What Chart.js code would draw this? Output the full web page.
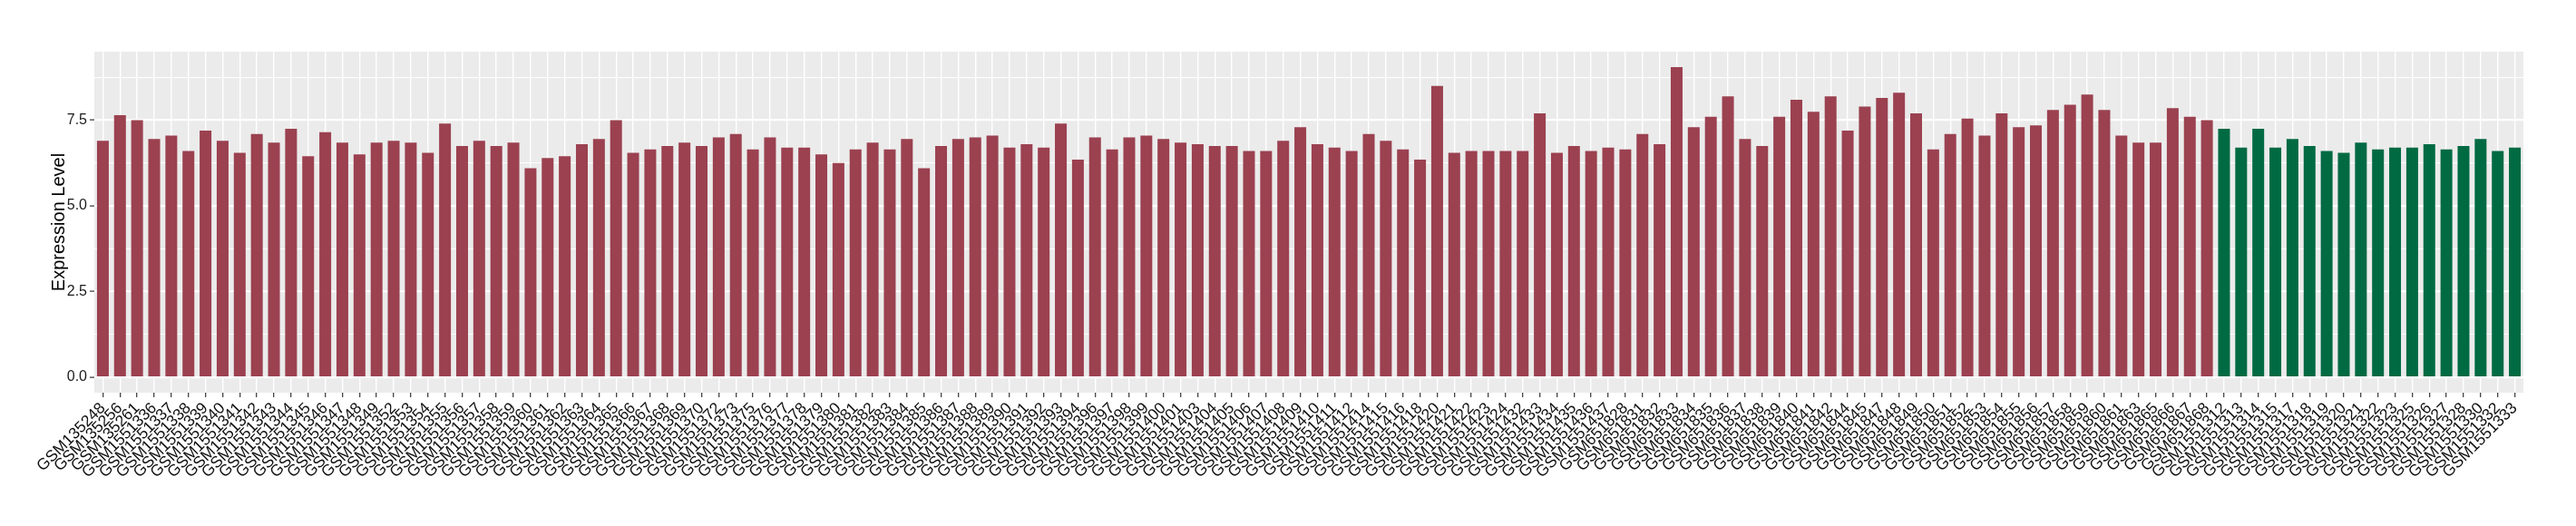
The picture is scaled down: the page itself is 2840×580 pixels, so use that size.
<!DOCTYPE html>
<html>
<head>
<meta charset="utf-8">
<script src="https://cdn.jsdelivr.net/npm/chart.js@4.4.0/dist/chart.umd.min.js"></script>
<style>
  html, body { margin: 0; padding: 0; background: #fff; }
</style>
</head>
<body>
<canvas id="chart" width="2840" height="580"></canvas>
<script>
// samples of the first group (drawn red)
const groupASamples = [
  "GSM135248", "GSM135256", "GSM135261", "GSM1551336", "GSM1551337", "GSM1551338", "GSM1551339", "GSM1551340",
  "GSM1551341", "GSM1551342", "GSM1551343", "GSM1551344", "GSM1551345", "GSM1551346", "GSM1551347", "GSM1551348",
  "GSM1551349", "GSM1551352", "GSM1551353", "GSM1551354", "GSM1551355", "GSM1551356", "GSM1551357", "GSM1551358",
  "GSM1551359", "GSM1551360", "GSM1551361", "GSM1551362", "GSM1551363", "GSM1551364", "GSM1551365", "GSM1551366",
  "GSM1551367", "GSM1551368", "GSM1551369", "GSM1551370", "GSM1551372", "GSM1551373", "GSM1551375", "GSM1551376",
  "GSM1551377", "GSM1551378", "GSM1551379", "GSM1551380", "GSM1551381", "GSM1551382", "GSM1551383", "GSM1551384",
  "GSM1551385", "GSM1551386", "GSM1551387", "GSM1551388", "GSM1551389", "GSM1551390", "GSM1551391", "GSM1551392",
  "GSM1551393", "GSM1551394", "GSM1551396", "GSM1551397", "GSM1551398", "GSM1551399", "GSM1551400", "GSM1551401",
  "GSM1551403", "GSM1551404", "GSM1551405", "GSM1551406", "GSM1551407", "GSM1551408", "GSM1551409", "GSM1551410",
  "GSM1551411", "GSM1551412", "GSM1551414", "GSM1551415", "GSM1551416", "GSM1551418", "GSM1551420", "GSM1551421",
  "GSM1551422", "GSM1551423", "GSM1551424", "GSM1551432", "GSM1551433", "GSM1551434", "GSM1551435", "GSM1551436",
  "GSM1551437", "GSM651828", "GSM651831", "GSM651832", "GSM651833", "GSM651834", "GSM651835", "GSM651836",
  "GSM651837", "GSM651838", "GSM651839", "GSM651840", "GSM651841", "GSM651842", "GSM651844", "GSM651845",
  "GSM651847", "GSM651848", "GSM651849", "GSM651850", "GSM651851", "GSM651852", "GSM651853", "GSM651854",
  "GSM651855", "GSM651856", "GSM651857", "GSM651858", "GSM651859", "GSM651860", "GSM651861", "GSM651863",
  "GSM651865", "GSM651866", "GSM651867", "GSM651868"
];
const groupAValues = [
  6.9, 7.65, 7.5, 6.95, 7.05, 6.6, 7.2, 6.9,
  6.55, 7.1, 6.85, 7.25, 6.45, 7.15, 6.85, 6.5,
  6.85, 6.9, 6.85, 6.55, 7.4, 6.75, 6.9, 6.75,
  6.85, 6.1, 6.4, 6.45, 6.8, 6.95, 7.5, 6.55,
  6.65, 6.75, 6.85, 6.75, 7.0, 7.1, 6.65, 7.0,
  6.7, 6.7, 6.5, 6.25, 6.65, 6.85, 6.65, 6.95,
  6.1, 6.75, 6.95, 7.0, 7.05, 6.7, 6.8, 6.7,
  7.4, 6.35, 7.0, 6.65, 7.0, 7.05, 6.95, 6.85,
  6.8, 6.75, 6.75, 6.6, 6.6, 6.9, 7.3, 6.8,
  6.7, 6.6, 7.1, 6.9, 6.65, 6.35, 8.5, 6.55,
  6.6, 6.6, 6.6, 6.6, 7.7, 6.55, 6.75, 6.6,
  6.7, 6.65, 7.1, 6.8, 9.05, 7.3, 7.6, 8.2,
  6.95, 6.75, 7.6, 8.1, 7.75, 8.2, 7.2, 7.9,
  8.15, 8.3, 7.7, 6.65, 7.1, 7.55, 7.05, 7.7,
  7.3, 7.35, 7.8, 7.95, 8.25, 7.8, 7.05, 6.85,
  6.85, 7.85, 7.6, 7.5
];

// samples of the second group (drawn green)
const groupBSamples = [
  "GSM1551312", "GSM1551313", "GSM1551314", "GSM1551315", "GSM1551317", "GSM1551318", "GSM1551319", "GSM1551320",
  "GSM1551321", "GSM1551322", "GSM1551323", "GSM1551325", "GSM1551326", "GSM1551327", "GSM1551328", "GSM1551330",
  "GSM1551332", "GSM1551333"
];
const groupBValues = [
  7.25, 6.7, 7.25, 6.7, 6.95, 6.75, 6.6, 6.55,
  6.85, 6.65, 6.7, 6.7, 6.8, 6.65, 6.75, 6.95,
  6.6, 6.7
];

const yTickValues = [0, 1.25, 2.5, 3.75, 5, 6.25, 7.5, 8.75];

const colorA = '#9B4150';
const colorB = '#006A43';

const labels = groupASamples.concat(groupBSamples);
const values = groupAValues.concat(groupBValues);
const barColors = groupASamples.map(() => colorA).concat(groupBSamples.map(() => colorB));

// grey ggplot-like panel behind the bars
const panelBg = {
  id: 'panelBg',
  beforeDraw(chart) {
    const { ctx, chartArea: a } = chart;
    ctx.save();
    ctx.fillStyle = '#EBEBEB';
    ctx.fillRect(a.left, a.top, a.right - a.left, a.bottom - a.top);
    ctx.restore();
  }
};

const isMajor = v => Math.abs(v / 2.5 - Math.round(v / 2.5)) < 1e-6;

new Chart(document.getElementById('chart').getContext('2d'), {
  type: 'bar',
  data: {
    labels: labels,
    datasets: [{
      data: values,
      backgroundColor: barColors,
      borderWidth: 0,
      barPercentage: 0.69,
      categoryPercentage: 1.0
    }]
  },
  options: {
    responsive: false,
    animation: false,
    devicePixelRatio: 1,
    layout: { padding: { left: 0, top: 57, right: 58, bottom: 0 } },
    plugins: {
      legend: { display: false },
      tooltip: { enabled: false }
    },
    scales: {
      x: {
        offset: true,
        grid: {
          offset: false,
          color: '#FFFFFF',
          lineWidth: 1.4,
          drawTicks: true,
          tickLength: 5,
          tickColor: '#333333',
          tickWidth: 1.2
        },
        border: { display: false },
        ticks: {
          autoSkip: false,
          maxRotation: 45,
          minRotation: 45,
          padding: 2,
          color: '#111111',
          font: { family: 'Liberation Sans', size: 17.5 }
        },
        afterFit(scale) { scale.height = 147; }
      },
      y: {
        min: -0.45,
        max: 9.5,
        afterBuildTicks(scale) {
          scale.ticks = yTickValues.map(v => ({ value: v }));
        },
        grid: {
          color: '#FFFFFF',
          lineWidth: ctx => isMajor(ctx.tick.value) ? 2.2 : 1.1,
          drawTicks: true,
          tickLength: 5,
          tickColor: ctx => isMajor(ctx.tick.value) ? '#333333' : 'rgba(0,0,0,0)',
          tickWidth: 1.2
        },
        border: { display: false },
        ticks: {
          padding: 3,
          color: '#1A1A1A',
          font: { family: 'Liberation Sans', size: 16 },
          callback: v => isMajor(v) ? v.toFixed(1) : ''
        },
        title: {
          display: true,
          text: 'Expression Level',
          color: '#000000',
          font: { family: 'Liberation Sans', size: 20 },
          padding: { top: 53, bottom: 0 }
        },
        afterFit(scale) { scale.width = 104; }
      }
    }
  },
  plugins: [panelBg]
});
</script>
</body>
</html>
